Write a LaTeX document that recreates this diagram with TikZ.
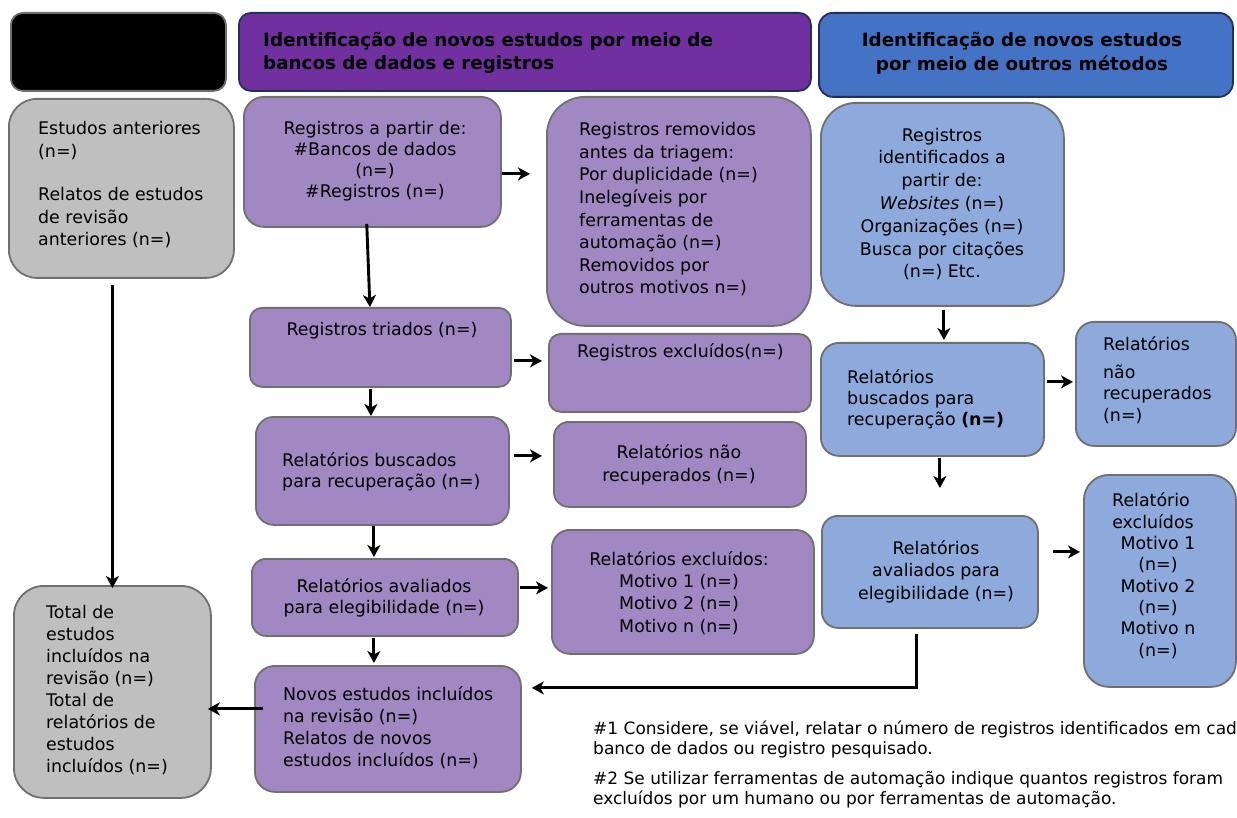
\documentclass[tikz,border=0pt]{standalone}
\usepackage{fontspec}
\setmainfont{DejaVu Sans}
\usetikzlibrary{arrows.meta,calc}
\definecolor{pfill}{RGB}{161,136,194}
\definecolor{bfill}{RGB}{142,169,219}
\definecolor{gfill}{RGB}{191,191,191}
\definecolor{hpurple}{RGB}{112,48,160}
\definecolor{hblue}{RGB}{68,114,196}
\definecolor{hborder}{RGB}{32,48,90}
\definecolor{bgray}{RGB}{112,112,112}
\newcommand\bxfont{\fontsize{17.4}{21}\selectfont}
\newcommand\ftfont{\fontsize{17}{20}\selectfont}
\tikzset{
  box/.style={draw=bgray, line width=1.8pt, inner sep=0pt, anchor=north west},
  pbox/.style={box, fill=pfill},
  bbox/.style={box, fill=bfill},
  gbox/.style={box, fill=gfill},
  hbox/.style={box, draw=hborder},
  txt/.style={inner sep=0pt, font=\bxfont, text=black},
  arr/.style={-{Stealth[length=12pt,width=13pt,inset=3.5pt]}, line width=2.9pt, black},
}
\begin{document}
\begin{tikzpicture}[x=1pt,y=-1pt]
\useasboundingbox[fill=white] (0,0) rectangle (1237,818);
% header boxes
\node[box, fill=black, rounded corners=12pt, minimum width=215pt, minimum height=78pt] (blk) at (10,12) {};
\node[hbox, fill=hpurple, rounded corners=12pt, minimum width=572pt, minimum height=78pt] (hp) at (238,12) {};
\node[hbox, fill=hblue, rounded corners=14pt, minimum width=414pt, minimum height=84pt] (hb) at (818,12) {};
% boxes
\node[gbox, rounded corners=28pt, minimum width=225pt, minimum height=179pt] (g1) at (8,98) {};
\node[pbox, rounded corners=20pt, minimum width=257pt, minimum height=130pt] (p1) at (243,96) {};
\node[pbox, rounded corners=38pt, minimum width=264pt, minimum height=229pt] (prem) at (546,96) {};
\node[bbox, rounded corners=35pt, minimum width=243pt, minimum height=203pt] (b1) at (820,102) {};
\node[pbox, rounded corners=12pt, minimum width=261pt, minimum height=79pt] (ptri) at (249,307) {};
\node[pbox, rounded corners=12pt, minimum width=262pt, minimum height=78pt] (pexc) at (548,333) {};
\node[pbox, rounded corners=18pt, minimum width=253pt, minimum height=108pt] (pbus) at (255,416) {};
\node[pbox, rounded corners=15pt, minimum width=252pt, minimum height=85pt] (pnr) at (553,421) {};
\node[pbox, rounded corners=14pt, minimum width=266pt, minimum height=77pt] (pava) at (251,558) {};
\node[pbox, rounded corners=18pt, minimum width=262pt, minimum height=124pt] (pexm) at (551,529) {};
\node[pbox, rounded corners=20pt, minimum width=266pt, minimum height=126pt] (pnov) at (254,665) {};
\node[gbox, rounded corners=30pt, minimum width=197pt, minimum height=212pt] (gtot) at (13,585) {};
\node[bbox, rounded corners=18pt, minimum width=223pt, minimum height=113pt] (bbus) at (820,342) {};
\node[bbox, rounded corners=18pt, minimum width=160pt, minimum height=124pt] (bnr) at (1075,321) {};
\node[bbox, rounded corners=16pt, minimum width=216pt, minimum height=112pt] (bava) at (821,515) {};
\node[bbox, rounded corners=25pt, minimum width=152pt, minimum height=212pt] (bexm) at (1083,474) {};
% header texts (anchor base = baseline of last line)
\node[txt, anchor=base west, align=left, font=\fontsize{18.3}{23}\selectfont\bfseries] (hpt) at (263,70) {Identificação de novos estudos por meio de\\bancos de dados e registros};
\node[txt, anchor=base, align=center, font=\fontsize{18.3}{24}\selectfont\bfseries] (hbt) at (1022,71) {Identificação de novos estudos\\por meio de outros métodos};
% box texts
\node[txt, anchor=base west, align=left, font=\fontsize{17.4}{22.5}\selectfont] (g1t) at (38,246) {Estudos anteriores\\(n=)\\[21pt]Relatos de estudos\\de revisão\\anteriores (n=)};
\node[txt, anchor=base, align=center] (p1t) at (375,198) {Registros a partir de:\\\#Bancos de dados\\(n=)\\\#Registros (n=)};
\node[txt, anchor=base west, align=left, font=\fontsize{17.4}{22.6}\selectfont] (premt) at (579,294) {Registros removidos\\antes da triagem:\\Por duplicidade (n=)\\Inelegíveis por\\ferramentas de\\automação (n=)\\Removidos por\\outros motivos n=)};
\node[txt, anchor=base, align=center, font=\fontsize{17.4}{22.8}\selectfont] (b1t) at (942,278) {Registros\\identificados a\\partir de:\\\textit{Websites} (n=)\\Organizações (n=)\\Busca por citações\\(n=) Etc.};
\node[txt, anchor=base] (ptrit) at (382,336) {Registros triados (n=)};
\node[txt, anchor=base west] (pexct) at (577,357) {Registros excluídos(n=)};
\node[txt, anchor=base west, align=left] (pbust) at (282,487) {Relatórios buscados\\para recuperação (n=)};
\node[txt, anchor=base, align=center, font=\fontsize{17.4}{23}\selectfont] (pnrt) at (679,481) {Relatórios não\\recuperados (n=)};
\node[txt, anchor=base, align=center] (pavat) at (384,613) {Relatórios avaliados\\para elegibilidade (n=)};
\node[txt, anchor=base, align=center, font=\fontsize{17.4}{22.3}\selectfont] (pexmt) at (679,632) {Relatórios excluídos:\\Motivo 1 (n=)\\Motivo 2 (n=)\\Motivo n (n=)};
\node[txt, anchor=base west, align=left, font=\fontsize{17.4}{21.7}\selectfont] (pnovt) at (283,766) {Novos estudos incluídos\\na revisão (n=)\\Relatos de novos\\estudos incluídos (n=)};
\node[txt, anchor=base west, align=left, font=\fontsize{17.4}{22}\selectfont] (gtott) at (46,772) {Total de\\estudos\\incluídos na\\revisão (n=)\\Total de\\relatórios de\\estudos\\incluídos (n=)};
\node[txt, anchor=base west, align=left] (bbust) at (847,425) {Relatórios\\buscados para\\recuperação \textbf{(n=)}};
\node[txt, anchor=base west, align=left, font=\fontsize{17.4}{21.5}\selectfont] (bnrt) at (1103,421) {Relatórios\\[6pt]não\\recuperados\\(n=)};
\node[txt, anchor=base, align=center, font=\fontsize{17.4}{22.5}\selectfont] (bavat) at (936,599) {Relatórios\\avaliados para\\elegibilidade (n=)};
\node[txt, anchor=base, align=center, font=\fontsize{17.4}{21.3}\selectfont] (bexmt) at (1158,656) {Relatório\rule{14pt}{0pt}\\excluídos\rule{10pt}{0pt}\\Motivo 1\\(n=)\\Motivo 2\\(n=)\\Motivo n\\(n=)};
% footnotes
\begin{scope}
\clip (0,0) rectangle (1237,818);
\node[txt, anchor=base west, align=left, font=\ftfont] (fn1) at (593,754) {\#1 Considere, se viável, relatar o número de registros identificados em cada\\banco de dados ou registro pesquisado.};
\node[txt, anchor=base west, align=left, font=\ftfont] (fn2) at (593,804) {\#2 Se utilizar ferramentas de automação indique quantos registros foram\\excluídos por um humano ou por ferramentas de automação.};
\end{scope}
% arrows
\draw[arr, shorten <=6pt, shorten >=-3pt] (g1.south -| gtot.north) -- (gtot.north);
\draw[arr, shorten <=-4pt] ([xshift=-5.5pt]p1.south) -- ([xshift=-10.5pt]ptri.north);
\draw[arr, shorten >=16pt] ([yshift=-12pt]p1.east) -- ([yshift=-12pt]p1.east -| prem.west);
\draw[arr, shorten <=2pt, shorten >=6pt] ([yshift=-13.5pt]ptri.east) -- ([yshift=-13.5pt]ptri.east -| pexc.west);
\draw[arr, shorten <=1pt] ([xshift=-9.5pt]ptri.south) -- ([xshift=-11.5pt]pbus.north);
\draw[arr, shorten <=4pt, shorten >=11pt] ([yshift=15pt]pbus.east) -- ([yshift=15pt]pbus.east -| pnr.west);
\draw[arr, shorten >=1pt] ([xshift=-8.5pt]pbus.south) -- ([xshift=-11pt]pava.north);
\draw[arr, shorten <=1pt, shorten >=3pt] ([yshift=9.5pt]pava.east) -- ([yshift=9.5pt]pava.east -| pexm.west);
\draw[arr, shorten <=1pt, shorten >=2pt] ([xshift=-11pt]pava.south) -- ([xshift=-14pt]pnov.north);
\draw[arr, shorten <=-9pt, shorten >=-4pt] ([yshift=20pt]pnov.west) -- ([yshift=20pt]pnov.west -| gtot.east);
\draw[arr, shorten <=3pt, shorten >=2pt] ([xshift=1.5pt]b1.south) -- ([xshift=11.5pt]bbus.north);
\draw[arr, shorten <=2pt, shorten >=2pt] ([yshift=17.5pt]bbus.east) -- ([yshift=17.5pt]bbus.east -| bnr.west);
\draw[arr, shorten <=1pt, shorten >=27pt] ([xshift=7.5pt]bbus.south) -- ([xshift=10pt]bava.north);
\draw[arr, shorten <=14pt, shorten >=3pt] ([yshift=20pt]bava.east) -- ([yshift=20pt]bava.east -| bexm.west);
\draw[arr, shorten <=5pt, shorten >=10pt] ([xshift=-13pt]bava.south) |- ([yshift=41pt]pnov.east);
\end{tikzpicture}
\end{document}
